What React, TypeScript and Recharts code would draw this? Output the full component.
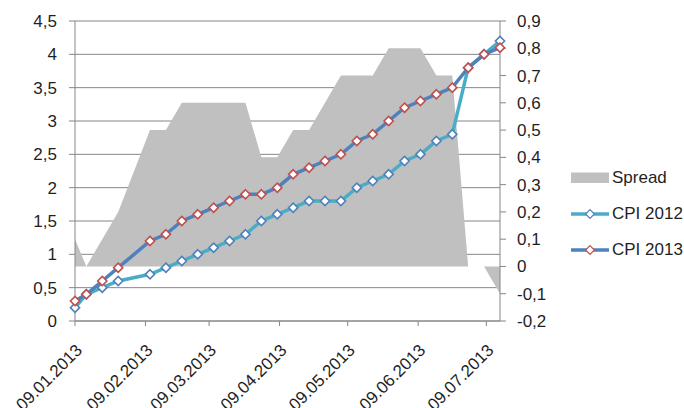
import React from "react";
import {
  ComposedChart,
  Area,
  Line,
  XAxis,
  YAxis,
  CartesianGrid,
  Legend,
} from "recharts";

const dates = [
  "09.01.2013", "14.01.2013", "21.01.2013", "28.01.2013", "11.02.2013",
  "18.02.2013", "25.02.2013", "04.03.2013", "11.03.2013", "18.03.2013",
  "25.03.2013", "01.04.2013", "08.04.2013", "15.04.2013", "22.04.2013",
  "29.04.2013", "06.05.2013", "13.05.2013", "20.05.2013", "27.05.2013",
  "03.06.2013", "10.06.2013", "17.06.2013", "24.06.2013", "01.07.2013",
  "08.07.2013", "15.07.2013",
];

const cpi2012 = [
  0.2, 0.4, 0.5, 0.6, 0.7, 0.8, 0.9, 1.0, 1.1, 1.2, 1.3, 1.5, 1.6, 1.7, 1.8,
  1.8, 1.8, 2.0, 2.1, 2.2, 2.4, 2.5, 2.7, 2.8, 3.8, 4.0, 4.2,
];

const cpi2013 = [
  0.3, 0.4, 0.6, 0.8, 1.2, 1.3, 1.5, 1.6, 1.7, 1.8, 1.9, 1.9, 2.0, 2.2, 2.3,
  2.4, 2.5, 2.7, 2.8, 3.0, 3.2, 3.3, 3.4, 3.5, 3.8, 4.0, 4.1,
];

const spread = [
  0.1, 0, 0.1, 0.2, 0.5, 0.5, 0.6, 0.6, 0.6, 0.6, 0.6, 0.4, 0.4, 0.5, 0.5,
  0.6, 0.7, 0.7, 0.7, 0.8, 0.8, 0.8, 0.7, 0.7, 0, 0, -0.1,
];

const xTickLabels = [
  "09.01.2013", "09.02.2013", "09.03.2013", "09.04.2013", "09.05.2013",
  "09.06.2013", "09.07.2013",
];

const leftTicks = [0, 0.5, 1, 1.5, 2, 2.5, 3, 3.5, 4, 4.5];
const rightTicks = [-0.2, -0.1, 0, 0.1, 0.2, 0.3, 0.4, 0.5, 0.6, 0.7, 0.8, 0.9];

const legendOrder = ["Spread", "CPI 2012", "CPI 2013"];

const toTs = (s: string) => {
  const [d, m, y] = s.split(".").map(Number);
  return Date.UTC(y, m - 1, d);
};

const data = dates.map((d, i) => ({
  t: toTs(d),
  spread: spread[i],
  cpi2012: cpi2012[i],
  cpi2013: cpi2013[i],
}));

const xTicks = xTickLabels.map(toTs);
const labelByTs: Record<number, string> = {};
xTickLabels.forEach((l) => (labelByTs[toTs(l)] = l));

const FONT = "'Liberation Sans', Arial, sans-serif";
const TEXT = "#1f1f1f";
const AXIS = "#868686";
const GRAY = "#c0c0c0";
const C2012 = "#4bacc6";
const C2013 = "#4f81bd";
const M2012 = "#4f81bd";
const M2013 = "#c0504d";

const fmt = (v: number) => String(v).replace(".", ",");

const Diamond = (stroke: string) => (props: any) => {
  const { cx, cy, key, index } = props;
  if (cx == null || cy == null) return <g key={key ?? index} />;
  const r = 4.6;
  return (
    <path
      key={key ?? index}
      d={`M${cx},${cy - r}L${cx + r},${cy}L${cx},${cy + r}L${cx - r},${cy}Z`}
      fill="#ffffff"
      stroke={stroke}
      strokeWidth={1.6}
    />
  );
};

const XTick = (props: any) => {
  const { x, y, payload } = props;
  const label = labelByTs[payload.value] ?? "";
  return (
    <g transform={`translate(${x + 4},${y + 19})`}>
      <text
        textAnchor="end"
        transform="rotate(-45)"
        fontSize={17}
        fontFamily={FONT}
        fill={TEXT}
        dy="0.35em"
      >
        {label}
      </text>
    </g>
  );
};

const markerColor: Record<string, string> = {
  cpi2012: M2012,
  cpi2013: M2013,
};

const LegendContent = (props: any) => {
  const payload = [...(props.payload || [])].sort(
    (a: any, b: any) => legendOrder.indexOf(a.value) - legendOrder.indexOf(b.value)
  );
  return (
    <div style={{ fontFamily: FONT, fontSize: 17, color: TEXT }}>
      {payload.map((entry: any) => (
        <div
          key={entry.value}
          style={{ height: 36, display: "flex", alignItems: "center" }}
        >
          <svg width={38} height={14} style={{ marginRight: 3 }}>
            {entry.type === "rect" ? (
              <rect x={0} y={1.5} width={38} height={10.5} fill={GRAY} />
            ) : (
              <g>
                <line
                  x1={0}
                  y1={7}
                  x2={38}
                  y2={7}
                  stroke={entry.color}
                  strokeWidth={3.5}
                />
                <path
                  d="M19,2.6L23.4,7L19,11.4L14.6,7Z"
                  fill="#fff"
                  stroke={markerColor[entry.dataKey] || entry.color}
                  strokeWidth={1.2}
                />
              </g>
            )}
          </svg>
          <span style={{ whiteSpace: "nowrap" }}>{entry.value}</span>
        </div>
      ))}
    </div>
  );
};

export default function App() {
  return (
    <div style={{ position: "absolute", left: 0, top: 0, width: 684, height: 408, overflow: "hidden" }}>
      <ComposedChart
        width={684}
        height={408}
        data={data}
        margin={{ top: 21, right: 124, left: 0, bottom: 0 }}
      >
        <CartesianGrid
          yAxisId="left"
          vertical={false}
          stroke={AXIS}
          strokeWidth={1}
        />
        <XAxis
          dataKey="t"
          type="number"
          scale="linear"
          domain={[data[0].t, data[data.length - 1].t]}
          ticks={xTicks}
          tick={<XTick />}
          tickSize={5}
          height={87}
          interval={0}
          axisLine={{ stroke: AXIS }}
          tickLine={{ stroke: AXIS }}
        />
        <YAxis
          yAxisId="left"
          orientation="left"
          domain={[0, 4.5]}
          ticks={leftTicks}
          tickFormatter={fmt}
          width={75}
          tickSize={6}
          tickMargin={12}
          interval={0}
          axisLine={{ stroke: AXIS }}
          tickLine={{ stroke: AXIS }}
          tick={{ fontSize: 17, fontFamily: FONT, fill: TEXT }}
        />
        <YAxis
          yAxisId="right"
          orientation="right"
          domain={[-0.2, 0.9]}
          ticks={rightTicks}
          tickFormatter={fmt}
          width={60}
          tickSize={6}
          tickMargin={11}
          interval={0}
          axisLine={{ stroke: AXIS }}
          tickLine={{ stroke: AXIS }}
          tick={{ fontSize: 17, fontFamily: FONT, fill: TEXT }}
        />
        <Area
          yAxisId="right"
          dataKey="spread"
          name="Spread"
          type="linear"
          baseValue={0}
          fill={GRAY}
          fillOpacity={1}
          stroke="none"
          legendType="rect"
          isAnimationActive={false}
          dot={false}
          activeDot={false}
        />
        <Line
          yAxisId="left"
          dataKey="cpi2012"
          name="CPI 2012"
          type="linear"
          stroke={C2012}
          strokeWidth={3.5}
          legendType="line"
          dot={Diamond(M2012)}
          activeDot={false}
          isAnimationActive={false}
        />
        <Line
          yAxisId="left"
          dataKey="cpi2013"
          name="CPI 2013"
          type="linear"
          stroke={C2013}
          strokeWidth={3.5}
          legendType="line"
          dot={Diamond(M2013)}
          activeDot={false}
          isAnimationActive={false}
        />
        <Legend
          layout="vertical"
          align="center"
          verticalAlign="middle"
          content={<LegendContent />}
          wrapperStyle={{ left: 571, top: 160, width: 113 }}
        />
      </ComposedChart>
    </div>
  );
}
